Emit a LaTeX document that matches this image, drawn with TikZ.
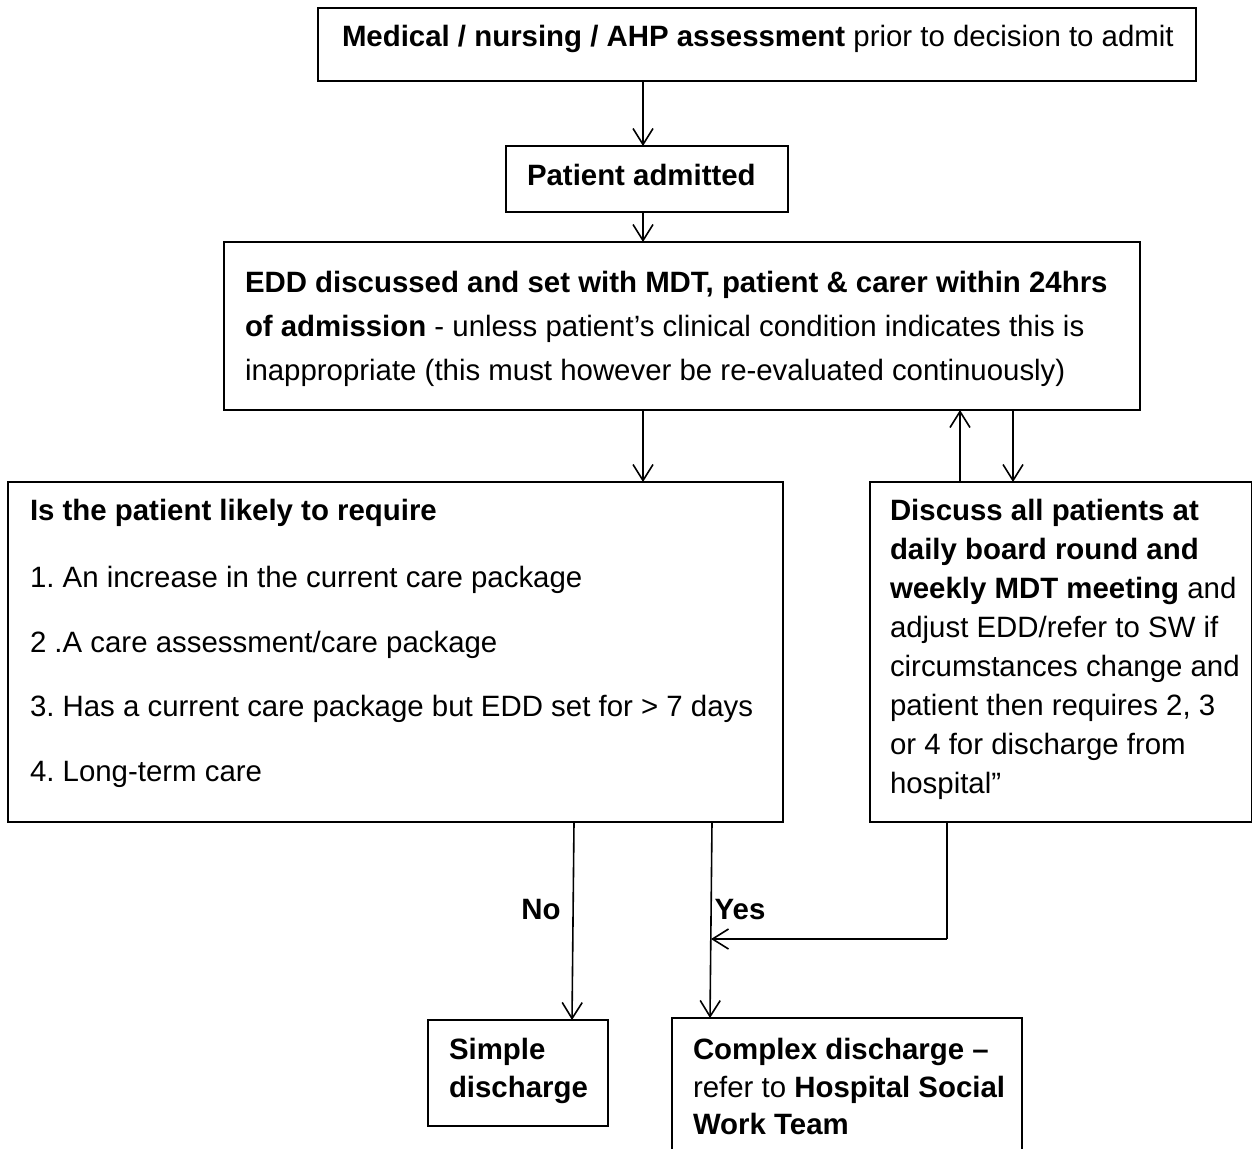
\documentclass[tikz,border=0pt]{standalone}
\usepackage{fontspec}
\setmainfont{Liberation Sans}
\usetikzlibrary{fit,arrows.meta}
\frenchspacing
\tikzset{
  box/.style={draw, line width=1pt, inner sep=0pt, outer sep=0pt},
  txt/.style={anchor=base west, inner sep=0pt, outer sep=0pt, font=\fontsize{14.7}{17}\selectfont},
  lbl/.style={inner sep=0pt, font=\fontsize{14.7}{17}\selectfont\bfseries},
  arr/.style={line width=0.8pt, -{Straight Barb[length=8pt,width=10pt,line width=0.8pt]}},
  ln/.style={line width=0.8pt}
}
\begin{document}
\begin{tikzpicture}[x=0.5pt,y=-0.5pt]
\useasboundingbox (0,0) rectangle (1252,1148);
% boxes
\node[box, fit={(318,8) (1196,81)}] (top) {};
\node[box, fit={(506,146) (788,212)}] (pat) {};
\node[box, fit={(224,242) (1140,410)}] (edd) {};
\node[box, fit={(8,482) (783,822)}] (isb) {};
\node[box, fit={(870,482) (1252,822)}] (disc) {};
\node[box, fit={(428,1020) (608,1126)}] (simple) {};
\node[box, fit={(672,1018) (1022,1170)}] (complex) {};
% texts
\node[txt] (t1) at (342,46) {\textbf{Medical / nursing / AHP assessment} prior to decision to admit};
\node[txt] (t2) at (527,185) {\textbf{Patient admitted}};
\node[txt] (e1) at (245,292) {\textbf{EDD discussed and set with MDT, patient \& carer within 24hrs}};
\node[txt] (e2) at (245,336) {\textbf{of admission} - unless patient’s clinical condition indicates this is};
\node[txt] (e3) at (245,380) {inappropriate (this must however be re-evaluated continuously)};
\node[txt] (i1) at (30,520) {\textbf{Is the patient likely to require}};
\node[txt] (i2) at (30,587) {1. An increase in the current care package};
\node[txt] (i3) at (30,652) {2 .A care assessment/care package};
\node[txt] (i4) at (30,716) {3. Has a current care package but EDD set for > 7 days};
\node[txt] (i5) at (30,781) {4. Long-term care};
\node[txt] (d1) at (890,520) {\textbf{Discuss all patients at}};
\node[txt] (d2) at (890,559) {\textbf{daily board round and}};
\node[txt] (d3) at (890,598) {\textbf{weekly MDT meeting} and};
\node[txt] (d4) at (890,637) {adjust EDD/refer to SW if};
\node[txt] (d5) at (890,676) {circumstances change and};
\node[txt] (d6) at (890,715) {patient then requires 2, 3};
\node[txt] (d7) at (890,754) {or 4 for discharge from};
\node[txt] (d8) at (890,793) {hospital”};
\node[txt] (s1) at (449,1059) {\textbf{Simple}};
\node[txt] (s2) at (449,1097) {\textbf{discharge}};
\node[txt] (c1) at (693,1059) {\textbf{Complex discharge –}};
\node[txt] (c2) at (693,1097) {refer to \textbf{Hospital Social}};
\node[txt] (c3) at (693,1134) {\textbf{Work Team}};
\node[lbl] (no) at (541,910) {No};
\node[lbl] (yes) at (740,910) {Yes};
% helper coordinates
\coordinate (cx) at (643,0);
\coordinate (up) at (960,0);
\coordinate (dn) at (1013,0);
\coordinate (noA) at (574,0);
\coordinate (noB) at (572,0);
\coordinate (yesA) at (712,0);
\coordinate (yesB) at (710,0);
\coordinate (dx) at (947,0);
\coordinate (corner) at (947,939);
\coordinate (join) at (711,939);
% connectors
\draw[arr] (top.south -| cx) -- (pat.north -| cx);
\draw[arr] (pat.south -| cx) -- (edd.north -| cx);
\draw[arr] (edd.south -| cx) -- (isb.north -| cx);
\draw[arr] (disc.north -| up) -- (edd.south -| up);
\draw[arr] (edd.south -| dn) -- (disc.north -| dn);
\draw[arr] (isb.south -| noA) -- (simple.north -| noB);
\draw[arr] (isb.south -| yesA) -- (complex.north -| yesB);
\draw[ln] (disc.south -| dx) -- (corner);
\draw[arr] (corner) -- (join);
\end{tikzpicture}
\end{document}
